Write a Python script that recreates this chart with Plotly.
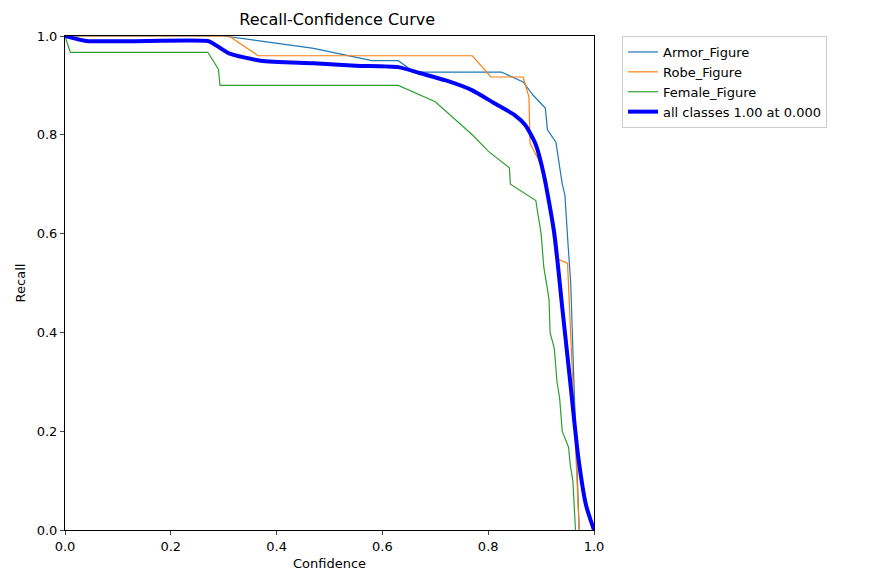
import plotly.graph_objects as go

# Armor_Figure
armor_x = [0.0, 0.30, 0.47, 0.58, 0.63, 0.66, 0.825, 0.866, 0.885, 0.908, 0.912, 0.928, 0.94, 0.945, 0.951, 0.956, 0.962, 0.972]
armor_y = [1.0, 1.0, 0.975, 0.95, 0.95, 0.927, 0.927, 0.907, 0.88, 0.854, 0.81, 0.785, 0.70, 0.678, 0.577, 0.5, 0.3, 0.0]

# Robe_Figure
robe_x = [0.0, 0.31, 0.365, 0.77, 0.805, 0.866, 0.877, 0.879, 0.895, 0.91, 0.92, 0.928, 0.95, 0.96, 0.972]
robe_y = [1.0, 1.0, 0.96, 0.96, 0.917, 0.917, 0.877, 0.783, 0.75, 0.708, 0.62, 0.55, 0.54, 0.3, 0.0]

# Female_Figure
female_x = [0.0, 0.01, 0.27, 0.29, 0.293, 0.63, 0.70, 0.77, 0.80, 0.84, 0.842, 0.89, 0.895, 0.90, 0.905, 0.915, 0.917,
            0.925, 0.93, 0.935, 0.94, 0.952, 0.955, 0.96, 0.965]
female_y = [1.0, 0.967, 0.967, 0.933, 0.9, 0.9, 0.867, 0.80, 0.767, 0.733, 0.70, 0.667, 0.633, 0.6, 0.533, 0.467, 0.4,
            0.367, 0.3, 0.267, 0.2, 0.167, 0.133, 0.1, 0.0]

# all classes
all_x = [0.0, 0.04, 0.27, 0.28, 0.31, 0.37, 0.47, 0.55, 0.63, 0.67, 0.72, 0.77, 0.81, 0.85, 0.87, 0.89, 0.905, 0.925,
         0.94, 0.955, 0.97, 0.985, 1.0]
all_y = [1.0, 0.99, 0.99, 0.985, 0.965, 0.95, 0.945, 0.94, 0.937, 0.925, 0.91, 0.89, 0.865, 0.84, 0.82, 0.78, 0.72,
         0.6, 0.45, 0.3, 0.15, 0.05, 0.0]

fig = go.Figure()
fig.add_trace(go.Scatter(x=armor_x, y=armor_y, mode="lines", name="Armor_Figure", line=dict(color="#1f77b4", width=1.2)))
fig.add_trace(go.Scatter(x=robe_x, y=robe_y, mode="lines", name="Robe_Figure", line=dict(color="#ff7f0e", width=1.2)))
fig.add_trace(go.Scatter(x=female_x, y=female_y, mode="lines", name="Female_Figure", line=dict(color="#2ca02c", width=1.2)))
fig.add_trace(go.Scatter(x=all_x, y=all_y, mode="lines", name="all classes 1.00 at 0.000",
                         line=dict(color="blue", width=4, shape="spline", smoothing=0.6)))

axis = dict(range=[0, 1], dtick=0.2, tickformat=".1f", showgrid=False, zeroline=False, showline=True, mirror=True,
            linecolor="black", linewidth=1, ticks="outside", ticklen=4, tickfont=dict(size=13, color="black"))
fig.update_layout(
    width=871, height=582,
    margin=dict(l=55, r=285, t=28, b=60),
    plot_bgcolor="white", paper_bgcolor="white",
    font=dict(family="DejaVu Sans", color="black"),
    title=dict(text="Recall-Confidence Curve", x=0.378, xanchor="center", y=0.99, yanchor="top", font=dict(size=16)),
    xaxis=dict(axis, title=dict(text="Confidence", font=dict(size=13), standoff=6)),
    yaxis=dict(axis, title=dict(text="Recall", font=dict(size=13), standoff=8)),
    legend=dict(x=1.053, y=1.0, xanchor="left", yanchor="top", bordercolor="#cccccc", borderwidth=1,
                font=dict(size=13)),
)
fig.write_html("out.html")
